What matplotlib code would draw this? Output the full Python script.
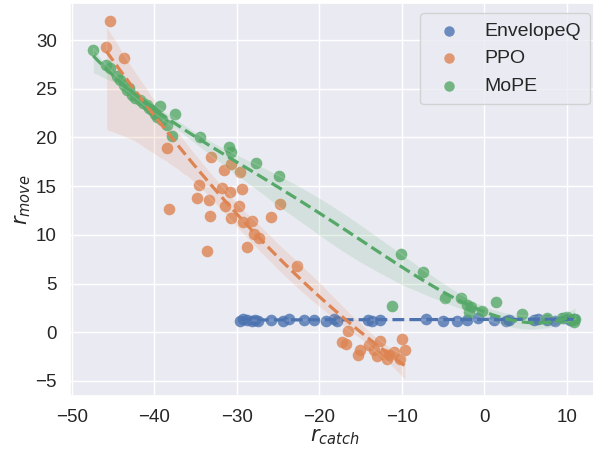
import numpy as np
import matplotlib
matplotlib.use("Agg")
import matplotlib.pyplot as plt
import seaborn as sns

# reward pairs (r_catch, r_move) per method
env_x = [-29.6, -29.2, -28.8, -28.2, -27.8, -27.4, -25.8, -24.4, -23.7, -21.8, -20.6,
         -19.2, -18.2, -17.8, -14.1, -13.6, -12.6, -7.1, -5.0, -3.3, -2.1, -0.8,
         1.1, 2.6, 3.0, 6.0, 6.5, 7.6, 8.6, 9.6, 10.4, 10.8]
env_y = [1.2, 1.4, 1.3, 1.2, 1.3, 1.1, 1.3, 1.2, 1.4, 1.3, 1.3,
         1.2, 1.4, 1.2, 1.3, 1.1, 1.3, 1.4, 1.2, 1.2, 1.3, 1.5,
         1.3, 1.2, 1.3, 1.3, 1.4, 1.3, 1.2, 1.5, 1.3, 1.4]

ppo_x = [-45.3, -45.8, -43.7, -38.5, -33.1, -31.6, -30.7, -29.6, -34.6, -31.8, -30.8,
         -29.4, -34.8, -33.4, -38.2, -31.4, -29.7, -33.2, -30.7, -29.3, -28.1, -25.8,
         -24.8, -27.9, -27.3, -33.6, -28.8, -22.7,
         -16.5, -17.3, -16.8, -15.1, -15.3, -14.0, -13.4, -12.6, -13.0, -12.2, -11.6,
         -11.0, -10.0, -9.6, -10.2, -11.8]
ppo_y = [32.0, 29.3, 28.2, 18.9, 18.0, 16.7, 17.3, 16.4, 15.1, 14.8, 14.4,
         14.7, 13.8, 13.6, 12.6, 13.0, 13.0, 11.9, 11.7, 11.3, 11.4, 11.8,
         13.2, 10.1, 9.7, 8.3, 8.7, 6.8,
         0.1, -1.0, -1.2, -1.8, -2.3, -1.3, -1.8, -0.9, -2.4, -2.2, -2.3,
         -2.0, -0.7, -1.8, -2.7, -2.7]

mope_x = [-47.4, -45.8, -45.4, -44.5, -44.1, -43.7, -43.3, -43.0, -42.7, -42.3, -41.7,
          -41.3, -40.9, -40.6, -40.3, -39.9, -39.3, -39.7, -39.1, -37.5, -38.5, -37.9,
          -34.5, -30.9, -30.7, -27.7, -24.9, -10.1, -7.5, -11.2, -4.8, -2.8,
          -2.1, -1.6, -1.9, -0.3, 1.4, 4.6, 7.6, 9.4, 10.0, 10.6, 10.8, 11.0]
mope_y = [29.0, 27.4, 27.1, 26.3, 25.9, 25.4, 24.9, 25.1, 24.4, 24.0, 23.8,
          23.5, 23.3, 23.0, 22.8, 22.4, 23.2, 22.1, 21.8, 22.4, 21.3, 20.1,
          20.0, 19.0, 18.5, 17.4, 16.0, 8.0, 6.2, 2.7, 3.5, 3.5,
          2.8, 2.6, 2.1, 2.2, 3.1, 1.9, 1.5, 1.5, 1.6, 1.3, 1.0, 1.4]

sns.set_theme(style="darkgrid")
plt.rcParams['font.family'] = ['Liberation Sans', 'DejaVu Sans']
colors = sns.color_palette("deep")

fig = plt.figure(figsize=(5.93, 4.59), dpi=100)
# axes run slightly past the right edge of the canvas
ax = fig.add_axes([70 / 593, 1 - 396 / 459, (600 - 70) / 593, (396 - 3) / 459])

series = [("EnvelopeQ", env_x, env_y, 1),
          ("PPO", ppo_x, ppo_y, 2),
          ("MoPE", mope_x, mope_y, 4)]
for i, (name, xs, ys, order) in enumerate(series):
    sns.regplot(x=np.array(xs), y=np.array(ys), ax=ax, order=order, ci=95, seed=3,
                color=colors[i], label=name, truncate=True,
                scatter_kws={"s": 70, "alpha": 0.8, "linewidths": 0},
                line_kws={"linestyle": "--", "linewidth": 2.3})

ax.set_xlim(-50.2, 14.0)
ax.set_ylim(-6.55, 33.8)
ax.set_xticks([-50, -40, -30, -20, -10, 0, 10])
ax.set_yticks([-5, 0, 5, 10, 15, 20, 25, 30])
ax.tick_params(labelsize=13.5, colors="#262626")
ax.set_xlabel(r"$r_{catch}$", fontsize=15, labelpad=1)
ax.set_ylabel(r"$r_{move}$", fontsize=15, labelpad=2)
ax.legend(loc="upper right", fontsize=14, markerscale=0.9, borderpad=0.5,
          handletextpad=0.8, labelspacing=0.5)

fig.savefig("out.png", dpi=100)
